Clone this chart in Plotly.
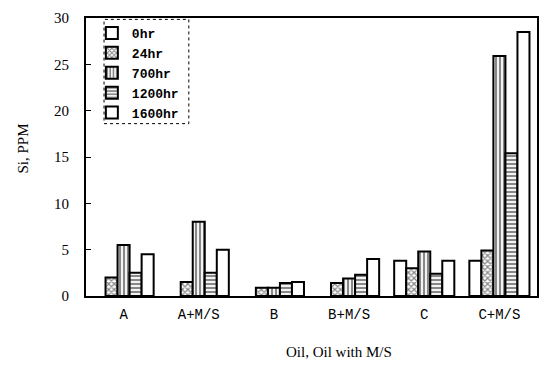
import plotly.graph_objects as go

categories = ["A", "A+M/S", "B", "B+M/S", "C", "C+M/S"]
series_names = ["0hr", "24hr", "700hr", "1200hr", "1600hr"]
# None = no bar drawn for that oil at 0hr
v_0hr = [None, None, None, None, 3.8, 3.8]
v_24hr = [2.0, 1.5, 0.9, 1.4, 3.0, 4.9]
v_700hr = [5.5, 8.0, 0.9, 1.9, 4.8, 25.9]
v_1200hr = [2.5, 2.5, 1.4, 2.3, 2.4, 15.4]
v_1600hr = [4.5, 5.0, 1.5, 4.0, 3.8, 28.5]
y_ticks = [0, 5, 10, 15, 20, 25, 30]

values = [v_0hr, v_24hr, v_700hr, v_1200hr, v_1600hr]
patterns = ["", "x", "|", "-", ""]

fig = go.Figure()
for name, vals, pat in zip(series_names, values, patterns):
    pattern = dict(shape=pat, fgcolor="#111", bgcolor="white", size=4, solidity=0.55) if pat else None
    fig.add_trace(go.Bar(
        x=categories, y=vals, name=name,
        marker=dict(color="white", line=dict(color="black", width=2), pattern=pattern),
    ))

fig.update_layout(
    width=549, height=365,
    margin=dict(l=86, r=10, t=15, b=69),
    paper_bgcolor="white", plot_bgcolor="white",
    barmode="group", bargap=0.2, bargroupgap=0,
    showlegend=True,
    legend=dict(x=0.013, y=1.0, xanchor="left", yanchor="top",
                bgcolor="rgba(0,0,0,0)", borderwidth=0,
                font=dict(family="Liberation Mono", size=13, color="black", weight="bold"),
                itemwidth=30, tracegroupgap=0),
    font=dict(family="Liberation Serif", color="black"),
)
fig.update_xaxes(
    showline=True, linecolor="black", linewidth=2, mirror=True,
    ticks="", ticklabelstandoff=4,
    tickfont=dict(family="Liberation Mono", size=14, color="black"),
)
fig.update_yaxes(
    range=[0, 30], tickvals=y_ticks, showline=True, linecolor="black", linewidth=2,
    mirror=True, ticks="inside", ticklen=5, tickcolor="black", showgrid=False,
    ticklabelstandoff=12, zeroline=False,
    tickfont=dict(family="Liberation Serif", size=15, color="black"),
)
fig.add_annotation(text="Si, PPM", xref="paper", yref="paper", x=-0.14, y=0.53,
                   xanchor="center", textangle=-90, showarrow=False,
                   font=dict(family="Liberation Serif", size=15, color="black"))
fig.add_annotation(text="Oil, Oil with M/S", xref="paper", yref="paper", x=0.56, y=-0.165,
                   yanchor="top", showarrow=False,
                   font=dict(family="Liberation Serif", size=15, color="black"))
fig.add_shape(type="rect", xref="paper", yref="paper", x0=0.04, x1=0.228, y0=0.62, y1=0.995,
              line=dict(color="black", width=1, dash="dot"))

fig.write_html("out.html")
